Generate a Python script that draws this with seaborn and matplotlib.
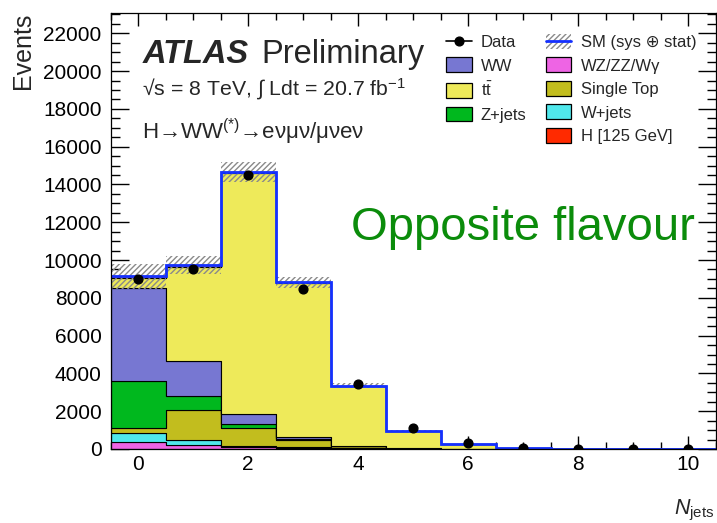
import numpy as np
import pandas as pd
import matplotlib
matplotlib.use("Agg")
import matplotlib.pyplot as plt
from matplotlib.ticker import MultipleLocator
from matplotlib.patches import Patch
from matplotlib.lines import Line2D
import seaborn as sns

# ---------------- data ----------------
njets = [0, 1, 2, 3, 4, 5, 6, 7, 8, 9, 10]
wz_zz_wg = [350, 210, 90, 40, 15, 5, 1, 0.5, 0.1, 0.0, 0.0]
w_jets = [480, 250, 85, 60, 20, 5, 2, 0.5, 0.1, 0.0, 0.0]
single_top = [300, 1600, 925, 380, 100, 30, 8, 2, 0.5, 0.1, 0.0]
z_jets = [2470, 740, 240, 30, 10, 5, 2, 0.5, 0.1, 0.0, 0.0]
ww = [4900, 1870, 510, 100, 35, 10, 3, 1, 0.2, 0.0, 0.0]
ttbar = [530, 4970, 12780, 8190, 3160, 890, 235, 45, 10, 2, 0.5]
higgs = [120, 90, 40, 15, 5, 2, 1, 0.2, 0.0, 0.0, 0.0]
sm_unc = [660, 480, 530, 310, 130, 40, 12, 3, 1, 0.3, 0.1]
data = [9000, 9520, 14500, 8450, 3440, 1130, 330, 70, 15, 3, 1]

proc_names = ["H [125 GeV]", "tt", "WW", "Z+jets", "Single Top", "W+jets", "WZ/ZZ/Wγ"]
proc_values = [higgs, ttbar, ww, z_jets, single_top, w_jets, wz_zz_wg]
proc_colors = ["#ff2a00", "#eeea5a", "#7777d2", "#00b81e", "#c2bd1e", "#50e8ec", "#ee64e4"]

# ---------------- style ----------------
sns.set_style("ticks")
plt.rcParams["font.family"] = ["Liberation Sans", "DejaVu Sans"]
plt.rcParams["mathtext.fontset"] = "custom"
plt.rcParams["mathtext.rm"] = "Liberation Sans"
plt.rcParams["mathtext.it"] = "Liberation Sans:italic"
plt.rcParams["mathtext.bf"] = "Liberation Sans:bold"
plt.rcParams["hatch.linewidth"] = 1.0

W, H = 717, 523
fig = plt.figure(figsize=(W / 100, H / 100), dpi=100)
ax = fig.add_axes([110.7 / W, 1 - 449 / H, (715.5 - 110.7) / W, (449 - 12.7) / H])


def px(x, y):
    return (x / W, 1 - y / H)


edges = [-0.5 + i for i in range(12)]
centers = np.array(njets, dtype=float)

rows = []
for name, vals in zip(proc_names, proc_values):
    for c, v in zip(njets, vals):
        rows.append({"njets": c, "weight": v, "process": name})
df = pd.DataFrame(rows)

sns.histplot(data=df, x="njets", weights="weight", hue="process",
             hue_order=proc_names, palette=dict(zip(proc_names, proc_colors)),
             multiple="stack", bins=edges, element="step", fill=True,
             alpha=1, edgecolor="black", linewidth=0.8, legend=False, ax=ax)

sm_total = np.sum(np.array(proc_values), axis=0)
unc = np.array(sm_unc)
ax.stairs(sm_total + unc, edges, baseline=sm_total - unc, fill=True,
          facecolor="none", edgecolor="#8a8a8a", hatch="//////", linewidth=0)
ax.stairs(sm_total, edges, color="#1430ff", linewidth=2.0, baseline=None)

d = np.array(data, dtype=float)
ax.errorbar(centers, d, yerr=np.sqrt(d), fmt="o", color="black", ms=6.3,
            elinewidth=1.2, capsize=0, zorder=10)

# ---------------- axes ----------------
ax.set_xlim(-0.5, 10.5)
ax.set_ylim(0, 23090)
ax.xaxis.set_major_locator(MultipleLocator(2))
ax.xaxis.set_minor_locator(MultipleLocator(0.5))
ax.yaxis.set_major_locator(MultipleLocator(2000))
ax.yaxis.set_minor_locator(MultipleLocator(500))
ax.xaxis.set_tick_params(which="major", direction="in", top=True, bottom=True,
                         length=9.4, width=1.0, color="black", pad=4.3,
                         labelsize=15, labelcolor="black")
ax.xaxis.set_tick_params(which="minor", direction="in", top=True, bottom=True,
                         length=4.8, width=1.0, color="black")
ax.yaxis.set_tick_params(which="major", direction="in", left=True, right=True,
                         length=12.7, width=1.0, color="black", pad=6.5,
                         labelsize=15, labelcolor="black")
ax.yaxis.set_tick_params(which="minor", direction="in", left=True, right=True,
                         length=6.3, width=1.0, color="black")
for s in ax.spines.values():
    s.set_linewidth(0.9)
    s.set_color("black")

ax.set_ylabel("Events", fontsize=18, loc="top")
ax.yaxis.set_label_coords((35 - 110.7) / (715.5 - 110.7), 1.0)
ax.set_xlabel(r"$\mathit{N}_{\mathrm{jets}}$", fontsize=15.5, loc="right")
ax.xaxis.set_label_coords(0.999, -0.112)

# ---------------- texts ----------------
fig.text(*px(142.7, 62.7), "ATLAS", fontsize=23.5, fontweight="bold",
         fontstyle="italic", va="baseline", ha="left")
fig.text(*px(261.7, 62.7), "Preliminary", fontsize=23.5, va="baseline", ha="left")
fig.text(*px(141.7, 95), r"√s = 8 TeV, ∫ Ldt = 20.7 fb$^{-1}$", fontsize=15.3,
         va="baseline", ha="left")
fig.text(*px(142.2, 139.3), r"H→WW$^{(*)}$→eνμν/μνeν", fontsize=16,
         va="baseline", ha="left")
fig.text(*px(695, 240), "Opposite flavour", fontsize=34, color="#0b8c0b",
         va="baseline", ha="right")

# ---------------- legend ----------------
lab_colors = dict(zip(proc_names, proc_colors))
def box(name):
    return Patch(facecolor=lab_colors[name], edgecolor="black", linewidth=0.9)

handles = [
    Line2D([], [], color="black", marker="o", ms=6.3, lw=1.2),
    box("WW"), box("tt"), box("Z+jets"),
    Patch(facecolor="none", edgecolor="none"),
    (Patch(facecolor="white", edgecolor="#8a8a8a", hatch="//////", linewidth=0),
     Line2D([], [], color="#1430ff", lw=2.0)),
    box("WZ/ZZ/Wγ"), box("Single Top"), box("W+jets"), box("H [125 GeV]"),
]
labels = ["Data", "WW", r"$\mathrm{t\bar{t}}$", "Z+jets", "",
          "SM (sys ⊕ stat)", "WZ/ZZ/Wγ", "Single Top", "W+jets", "H [125 GeV]"]
fig.legend(handles, labels, ncol=2, loc="upper left", bbox_to_anchor=px(446, 34),
           frameon=False, fontsize=12, handlelength=1.54, handleheight=1.0,
           handletextpad=0.55, columnspacing=1.15, labelspacing=0.44,
           borderpad=0, borderaxespad=0)

fig.savefig("out.png", dpi=100)
